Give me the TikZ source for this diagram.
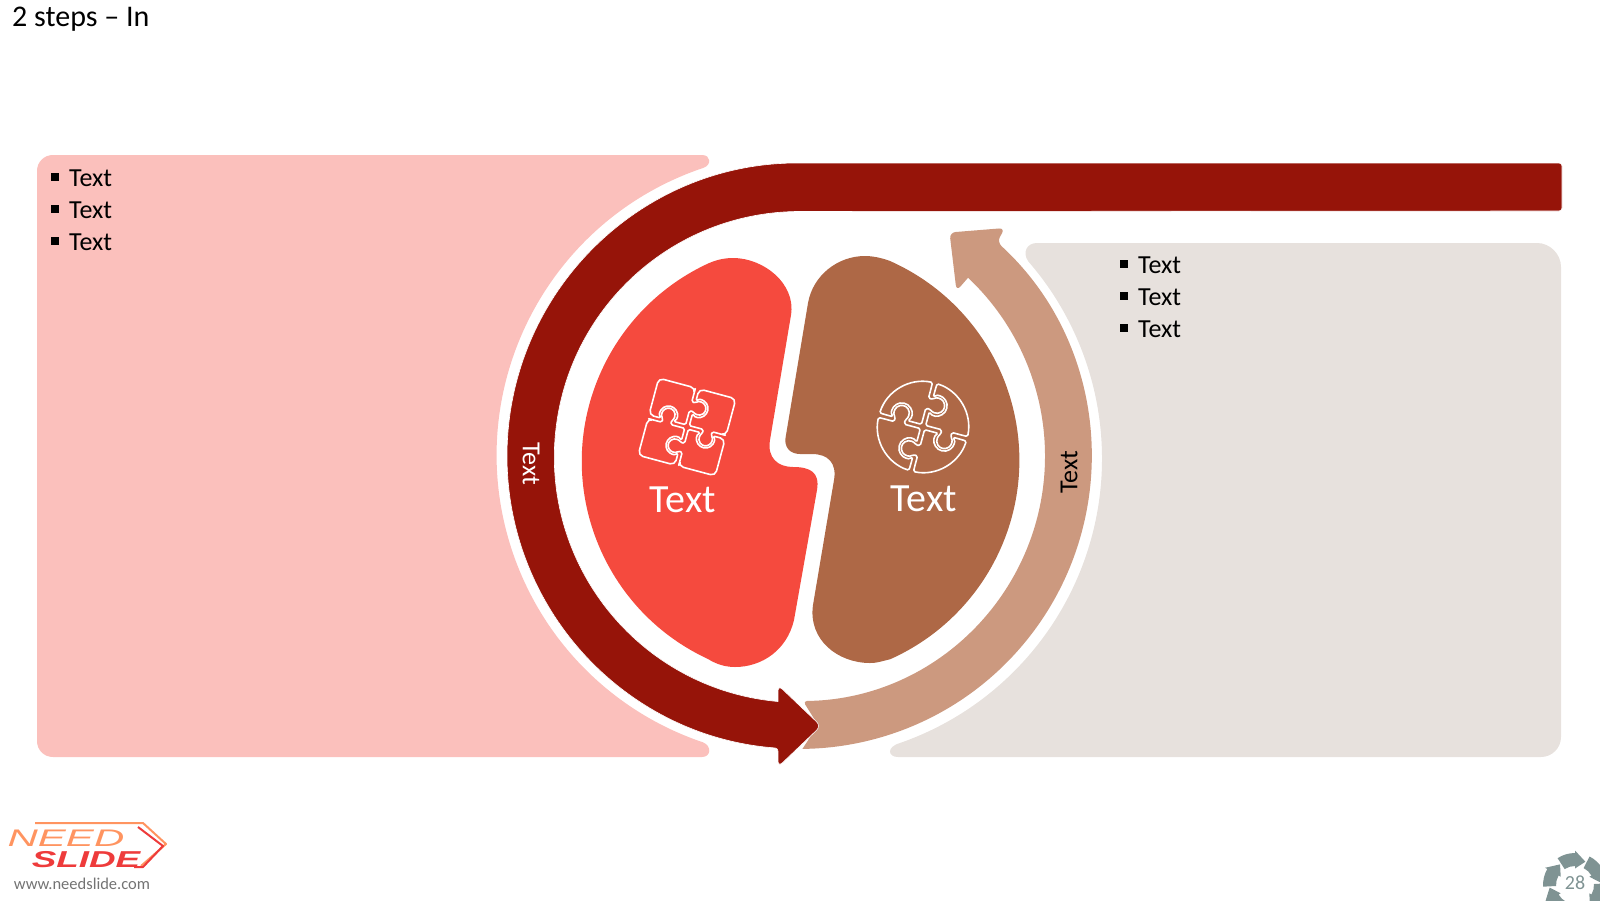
\documentclass[tikz,border=0pt]{standalone}
\usepackage{fontspec}
\setmainfont{Carlito}
\newfontfamily\logofont{Liberation Sans}
\definecolor{darkband}{HTML}{961409}
\definecolor{tanband}{HTML}{CC997F}
\definecolor{redblob}{HTML}{F54A3E}
\definecolor{brownblob}{HTML}{AE6846}
\definecolor{pinkbox}{HTML}{FBC0BC}
\definecolor{greybox}{HTML}{E7E1DD}
\definecolor{pagegrey}{HTML}{7F9393}
\definecolor{logoorange}{HTML}{FF9460}
\definecolor{logored}{HTML}{EE3B3B}
\newcommand{\fs}[1]{\fontsize{#1}{#1}\selectfont}
\def\puzzleedges{(-2,-36) -- (-2,-27) -- (2,-26.7) arc[start angle=140,end angle=-140,radius=7pt] -- (-2,-17) -- (-2,-2) -- (-15,-2) -- (-13.2,-3.9) arc[start angle=-20,end angle=200,radius=9.5pt] -- (-29,-2) -- (-36,-2)}
\tikzset{
  bulletbox/.style={fill=black,minimum size=8pt,inner sep=0pt},
  itemtext/.style={anchor=west,inner sep=0pt,font=\fs{26}},
  bigtext/.style={text=white,inner sep=0pt,font=\fs{40}},
  bandtext/.style={inner sep=0pt,font=\fs{26}},
  puzzleline/.style={draw=white,line width=1.6pt,rounded corners=1.5pt,line join=round}
}
\begin{document}
\begin{tikzpicture}[x=1pt,y=-1pt,line join=round]
\useasboundingbox (0,0) rectangle (1600,900);
\node[anchor=west,inner sep=0pt,font=\fs{30}] (title) at (12,19) {2 steps -- In};
% boxes
\fill[pinkbox] (53,155) -- (702,155) .. controls (711,155) and (712,165) .. (703,168) arc[start angle=108.6,end angle=251.4,radius=303pt] .. controls (712,746) and (711,757) .. (702,757) -- (53,757) .. controls (44,757) and (37,750) .. (37,741) -- (37,171) .. controls (37,162) and (44,155) .. (53,155) -- cycle;
\fill[greybox] (1037,243) -- (1537,243) .. controls (1550,243) and (1561,254) .. (1561,267) -- (1561,737) .. controls (1561,748) and (1552,757) .. (1541,757) -- (898,757) .. controls (888,757) and (886,747) .. (900,743) arc[start angle=-70.8,end angle=41,radius=301pt] .. controls (1022,252) and (1027,243) .. (1037,243) -- cycle;
% bands
\fill[tanband,rounded corners=6pt] (803,701) [sharp corners] arc[start angle=-89.3,end angle=46.7,radius=245pt] [rounded corners=6pt] -- (956.5,291) -- (949.5,232.5) -- (1005,228) -- (997,242) [sharp corners] arc[start angle=47.4,end angle=-89.4,radius=292pt] [rounded corners=4pt] -- (818,725) -- cycle;
\draw[fill=darkband,draw=white,line width=.6pt,rounded corners=3pt] (1562,163) -- (800,163) arc[start angle=90,end angle=265.7,radius=293pt] [rounded corners=6pt] -- (778,767) -- (821,726) -- (778,685) [sharp corners] -- (778,701.5) arc[start angle=264.9,end angle=90,radius=245.5pt] [rounded corners=3pt] -- (1562,211) -- cycle;
% blobs
\fill[redblob] (733,258) .. controls (764,258) and (796,284) .. (791,315) -- (770,440) .. controls (767,458) and (778,467) .. (793,467) .. controls (810,467) and (820,472) .. (817,490) -- (794,620) .. controls (787,650) and (762,667) .. (735,667) .. controls (725,667) and (716,664) .. (708,659) arc[start angle=245.1,end angle=114.9,radius=218pt] .. controls (716,260) and (724,258) .. (733,258) -- cycle;
\fill[brownblob] (865,256) .. controls (873,256) and (882,258) .. (890,261) arc[start angle=66,end angle=-66,radius=218pt] .. controls (882,661) and (878,663) .. (870,663) .. controls (838,663) and (808,640) .. (813,605) -- (834,480) .. controls (837,463) and (828,454) .. (812,454) -- (800,454) .. controls (790,454) and (783,447) .. (786,435) -- (808,303) .. controls (813,275) and (838,256) .. (865,256) -- cycle;
% puzzle icons
\foreach \a in {0,90,180,270}{
  \begin{scope}[shift={(687,427)},rotate=-15-\a,scale=.95]
    \draw[puzzleline] \puzzleedges [rounded corners=5pt] -- (-42,-2) -- (-42,-42) -- (-2,-42) -- cycle;
  \end{scope}
  \begin{scope}[shift={(923,427)},rotate=-15-\a,scale=1.09]
    \draw[puzzleline] \puzzleedges -- (-41.7,-2.2) arc[start angle=177,end angle=93,radius=41.8pt] -- cycle;
  \end{scope}
}
\node[bigtext] (redlabel) at (683,500) {Text};
\node[bigtext] (brownlabel) at (924,499) {Text};
\node[bandtext,text=white,rotate=-90] (darklabel) at (531,464) {Text};
\node[bandtext,text=black,rotate=90] (tanlabel) at (1069,472) {Text};
% bullets
\foreach \y [count=\i] in {178,210,242}{
  \node[bulletbox] (leftbullet\i) at (55,\y-1) {};
  \node[itemtext] (leftitem\i) at (69,\y) {Text};
}
\foreach \y [count=\i] in {265,297,329}{
  \node[bulletbox] (rightbullet\i) at (1123.5,\y-1) {};
  \node[itemtext] (rightitem\i) at (1138,\y) {Text};
}
% logo
\draw[logoorange,line width=2pt] (35,823) -- (143,823) -- (166,844) -- (141,866);
\draw[logored,line width=2pt] (138,827) -- (163,846) -- (143,867) -- (134,867);
\node[inner sep=0pt,text=logoorange,xscale=1.75,font=\logofont\itshape\fs{24}] (logoneed) at (66,838.5) {NEED};
\node[inner sep=0pt,text=logored,xscale=1.6,font=\logofont\bfseries\itshape\fs{23}] (logoslide) at (86,860) {SLIDE};
\node[inner sep=0pt,text=black!55,font=\fs{16.5}] (logourl) at (82,884) {www.needslide.com};
% page number
\begin{scope}
  \clip (1500,830) rectangle (1600,900);
  \foreach \a in {0,60,...,300}{
    \fill[pagegrey,shift={(1575,885)}] (\a+123:32pt) arc[start angle=\a+123,end angle=\a+90,radius=32pt] -- (\a+90:34.5pt) -- (\a+66:25.5pt) -- (\a+90:16.5pt) -- (\a+90:19pt) arc[start angle=\a+90,end angle=\a+123,radius=19pt] -- cycle;
  }
\end{scope}
\node[inner sep=0pt,text=pagegrey,font=\fs{20}] (pagenumber) at (1575,883) {28};
\end{tikzpicture}
\end{document}
